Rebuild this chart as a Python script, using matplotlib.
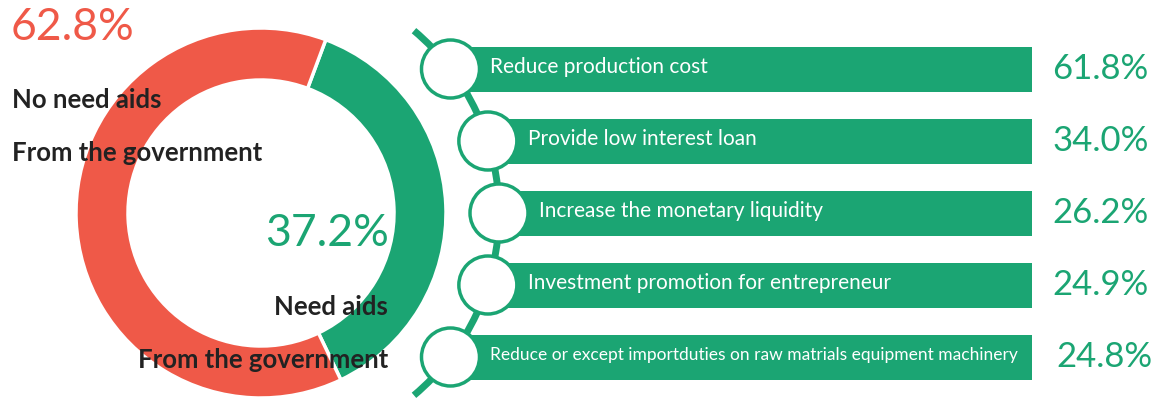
import numpy as np
import matplotlib.pyplot as plt
from matplotlib.patches import Circle, Arc

# donut shares
donut_labels = ['Need aids', 'No need aids']
donut_values = [37.2, 62.8]

# requested aid measures
measures = [
    'Reduce production cost',
    'Provide low interest loan',
    'Increase the monetary liquidity',
    'Investment promotion for entrepreneur',
    'Reduce or except importduties on raw matrials equipment machinery',
]
measure_values = [61.8, 34.0, 26.2, 24.9, 24.8]

GREEN = '#1ba573'
RED = '#ef5948'
DARK = '#222222'

W, H = 1160, 398
fig = plt.figure(figsize=(W / 100, H / 100), dpi=100)
ax = fig.add_axes([0, 0, 1, 1])

# donut, pixel space with y pointing up
cx, cy = 261, H - 213
radius = 185
ax.pie(donut_values, colors=[GREEN, RED], startangle=69.5, counterclock=False,
       center=(cx, cy), radius=radius,
       wedgeprops=dict(width=52, edgecolor='white', linewidth=2.5))

label_kw = dict(color=DARK, fontsize=18.5, family='Lato', fontweight='bold',
                va='center')
ax.text(11, H - 27, f'{donut_values[1]:.1f}%', color=RED, fontsize=32,
        family='Lato', va='center', ha='left')
ax.text(12, H - 100, 'No need aids', ha='left', **label_kw)
ax.text(12, H - 153, 'From the government', ha='left', **label_kw)
ax.text(389, H - 234, f'{donut_values[0]:.1f}%', color=GREEN, fontsize=32,
        family='Lato', va='center', ha='right')
ax.text(388, H - 307, donut_labels[0], ha='right', **label_kw)
ax.text(388, H - 360, 'From the government', ha='right', **label_kw)

# timeline arc the bullet circles sit on
arc_r = 238
ax.add_patch(Arc((cx, cy), 2 * arc_r, 2 * arc_r, theta1=-50, theta2=50,
                 color=GREEN, lw=5, zorder=1))

pitch = 72
bar_h = 45
bar_right = 1032
n = len(measures)
ys = [cy + pitch * (n // 2 - i) for i in range(n)]
xs = [cx + np.sqrt(arc_r ** 2 - (y - cy) ** 2) for y in ys]

ax.barh(ys, [bar_right - x for x in xs], left=xs, height=bar_h,
        color=GREEN, zorder=2)

for i, (x, y, label, val) in enumerate(zip(xs, ys, measures, measure_values)):
    ax.add_patch(Circle((x, y), 29, facecolor='white', edgecolor=GREEN,
                        lw=2.5, zorder=3))
    size = 12.5 if len(label) > 40 else 15
    ax.text(x + 40, y + 2, label, color='white', fontsize=size, family='Lato',
            va='center', ha='left', zorder=4)
    ax.text(1052 if i < n - 1 else 1056, y, f'{val:.1f}%', color=GREEN,
            fontsize=25, family='Lato', va='center', ha='left')

ax.set_xlim(0, W)
ax.set_ylim(0, H)
ax.set_aspect('equal')
ax.axis('off')

fig.savefig('out.png', dpi=100, facecolor='white')
